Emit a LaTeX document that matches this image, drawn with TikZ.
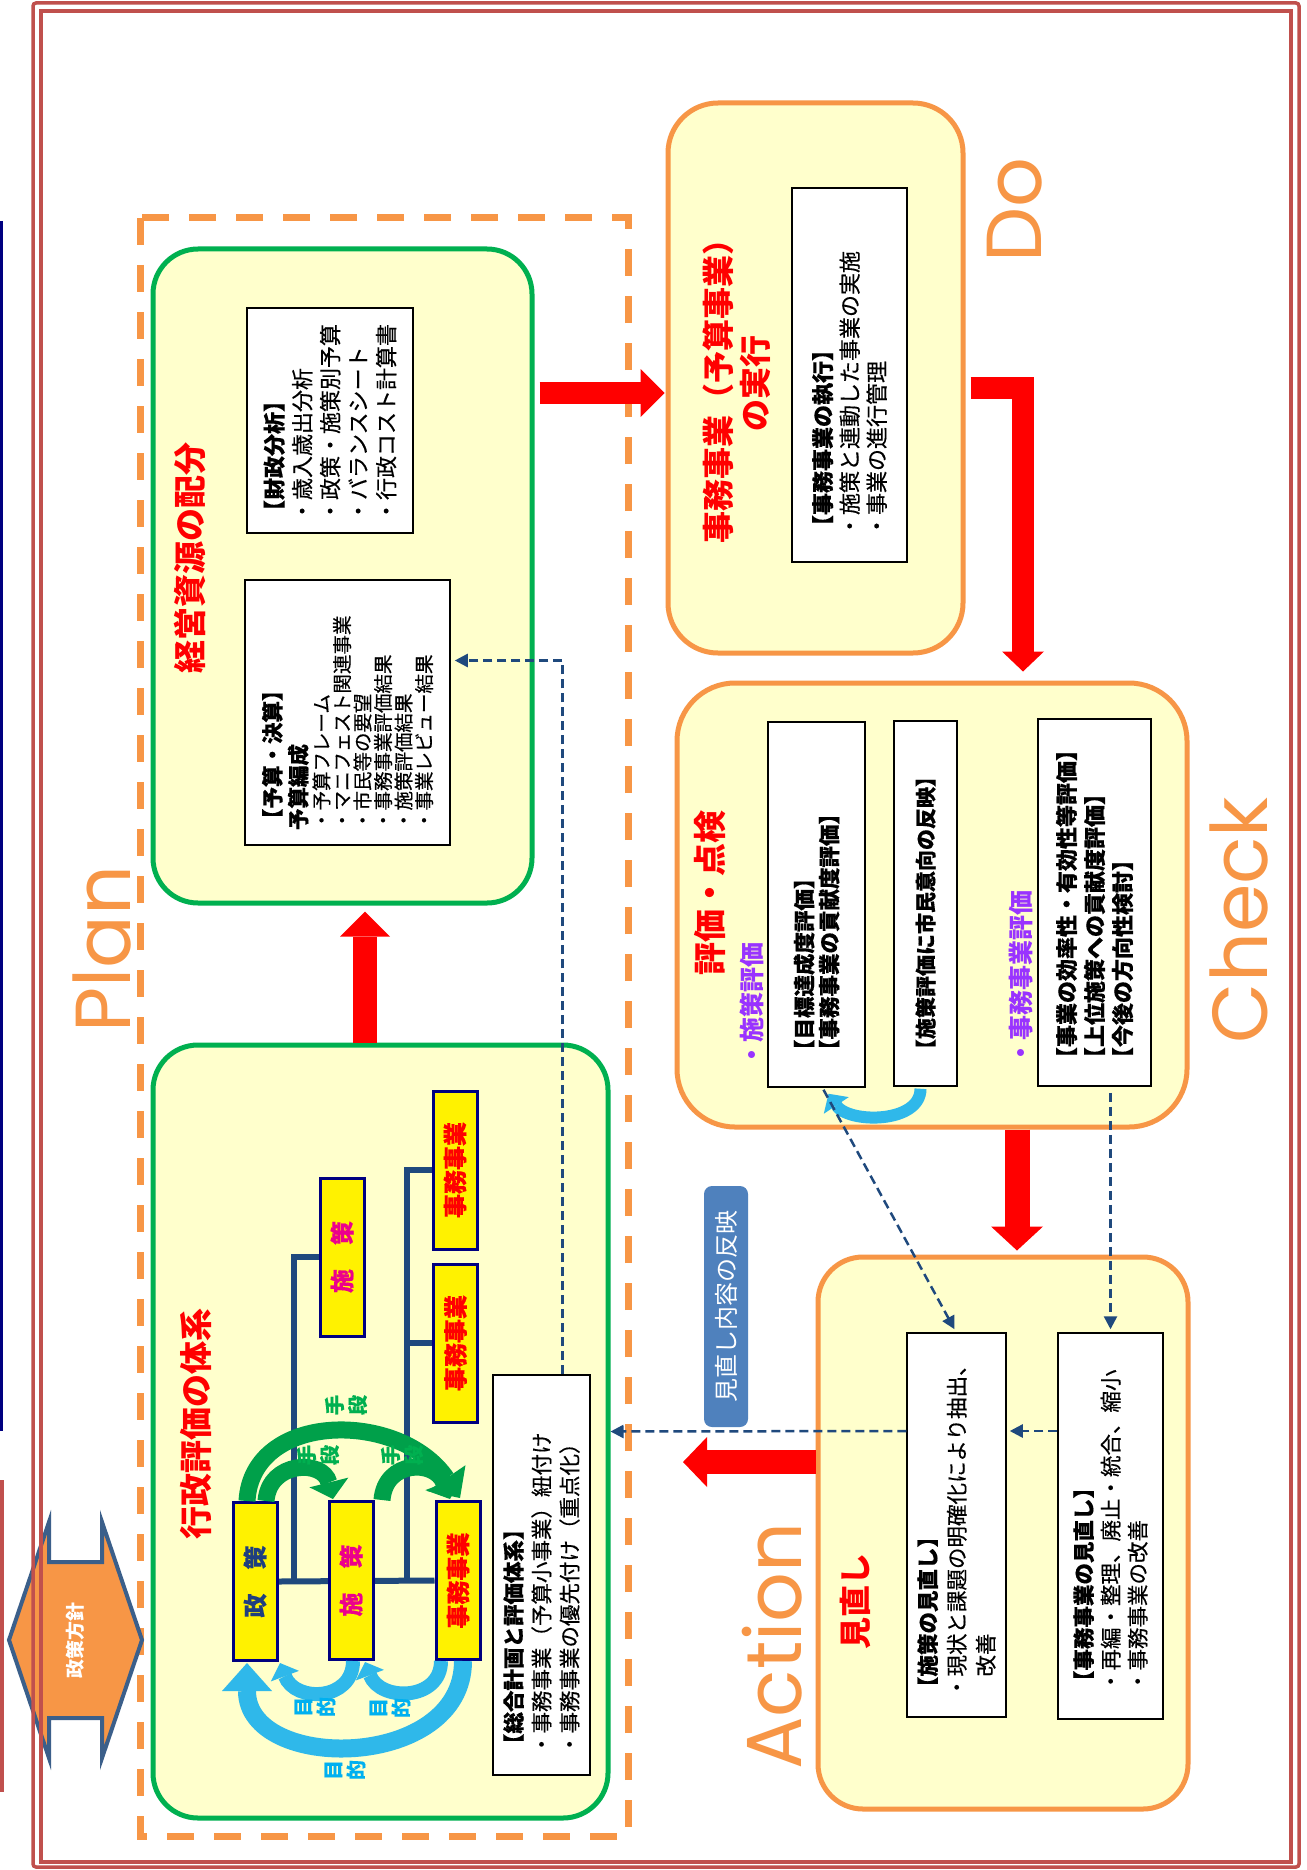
\documentclass[tikz,border=0pt]{standalone}
\usepackage{fontspec}
\setmainfont{Noto Sans CJK JP}
\newfontfamily\jpm{Noto Sans CJK JP}[FakeBold=0.35]
\newfontfamily\latinfont{Poppins}
\usetikzlibrary{arrows.meta,calc}
\pgfdeclarelayer{bg}
\pgfdeclarelayer{mid}
\pgfsetlayers{bg,mid,main}
\definecolor{bdred}{HTML}{C0504D}
\definecolor{orng}{HTML}{F79646}
\definecolor{grn}{HTML}{00B050}
\definecolor{lyel}{HTML}{FFFFCC}
\definecolor{navyline}{HTML}{1F497D}
\definecolor{navybox}{HTML}{000080}
\definecolor{dashblue}{HTML}{1F497D}
\definecolor{lbl}{HTML}{4F81BD}
\definecolor{purp}{HTML}{9933FF}
\definecolor{skyb}{HTML}{00B0F0}
\definecolor{arcgreen}{HTML}{00A04A}
\definecolor{arcblue}{HTML}{2FB8EA}
\definecolor{seiblue}{HTML}{1F3F7F}
\definecolor{arrowblue}{HTML}{3B5F8A}
\begin{document}
\begin{tikzpicture}[x=1pt,y=-1pt,
  bigbox/.style={rectangle,rounded corners=45pt,line width=5pt,fill=lyel,inner sep=0pt},
  ttl/.style={rotate=90,text=red,font=\fontsize{33}{38}\selectfont\bfseries,inner sep=0pt},
  ptl/.style={rotate=90,text=purp,font=\fontsize{25}{28}\selectfont\bfseries,inner sep=0pt},
  inbox/.style={rotate=90,draw=black,line width=1.5pt,fill=white,align=left,inner sep=0pt},
  hbox/.style={rotate=90,draw=navybox,line width=3pt,fill=yellow,minimum width=158pt,minimum height=44pt,font=\jpm\fontsize{24}{24}\selectfont\bfseries,inner sep=0pt},
  lbltext/.style={rotate=90,align=center,font=\jpm\fontsize{20}{23}\selectfont\bfseries,inner sep=0pt},
  pdca/.style={rotate=90,text=orng,font=\latinfont\fontsize{78}{80}\selectfont,inner sep=0pt},
  rarrow/.style={draw=red,line join=miter},
  dconn/.style={draw=dashblue,line width=2.5pt,dash pattern=on 9pt off 5pt,-{Triangle[width=13pt,length=13pt]}},
  garc/.style={draw=arcgreen,line width=17pt},
  barc/.style={draw=arcblue}
]
\begin{pgfonlayer}{bg}
\fill[white] (0,0) rectangle (1306,1870);
\node[bigbox,draw=grn,minimum width=379pt,minimum height=654pt] (topG) at (342.5,576) {};
\node[bigbox,draw=grn,minimum width=455pt,minimum height=773pt] (lowG) at (380.5,1431.5) {};
\node[bigbox,draw=orng,rounded corners=50pt,minimum width=295pt,minimum height=550pt] (doB) at (815.5,378) {};
\node[bigbox,draw=orng,rounded corners=58pt,minimum width=510pt,minimum height=444pt] (chkB) at (932,905) {};
\node[bigbox,draw=orng,minimum width=370pt,minimum height=552pt] (actB) at (1003,1533) {};
\end{pgfonlayer}
\useasboundingbox (0,0) rectangle (1306,1870);

% edge remnants
\draw[navybox,line width=3pt] (1.5,221) -- (1.5,1431);
\draw[bdred,line width=3.5pt] (1.75,1480) -- (1.75,1792);

% Plan dashed frame
\draw[orng,line width=7pt,dash pattern=on 27pt off 20pt] (140,218) rectangle (628,1836);

% policy double arrow
\filldraw[fill=orng,draw=arrowblue,line width=4pt,line join=miter] (9,1640) -- (49,1522) -- (49,1562) -- (102,1562) -- (102,1522) -- (142,1640) -- (102,1758) -- (102,1718) -- (49,1718) -- (49,1758) -- cycle;
\node[rotate=90,text=white,font=\fontsize{19}{19}\selectfont\bfseries,inner sep=0pt] (hoshin) at (75.5,1640) {政策方針};

% outer double border
\draw[bdred,line width=3.5pt,rounded corners=3pt] (33,3) rectangle (1299,1867);
\draw[bdred,line width=3.5pt] (41,11) rectangle (1291,1862);

% PDCA words
\node[pdca] (pPlan) at (101.5,949) {Plan};
\node[pdca] (pDo) at (1015,210) {Do};
\node[pdca] (pCheck) at (1239,920) {Check};
\node[pdca] (pAction) at (772,1646) {Action};

% titles
\node[ttl] (tKeiei) at (190,558) {経営資源の配分};
\node[ttl] (tGyosei) at (196,1424) {行政評価の体系};
\node[ttl,font=\fontsize{32}{37}\selectfont\bfseries,align=center] (tDo) at (736.5,383) {事務事業（予算事業）\\の実行};
\node[ttl] (tChk) at (710,893) {評価・点検};
\node[ttl,font=\fontsize{32}{37}\selectfont\bfseries] (tAct) at (855,1601) {見直し};
\node[ptl] (tShisaku) at (752,1005) {・施策評価};
\node[ptl] (tJimu) at (1021,978) {・事務事業評価};

% inner text boxes
\node[inbox,minimum width=225pt,minimum height=166pt,text width=203pt,font=\jpm\fontsize{22}{28}\selectfont] (zaisei) at (330,420.5)
{{\bfseries 【財政分析】}\\・歳入歳出分析\\・政策・施策別予算\\・バランスシート\\・行政コスト計算書};
\node[inbox,minimum width=265pt,minimum height=205pt,text width=235pt,font=\jpm\fontsize{19.5}{20.5}\selectfont] (yosan) at (347.5,712.5)
{{\fontsize{21.5}{20}\selectfont\bfseries 【予算・決算】}\\[4pt]{\fontsize{21.5}{20}\selectfont\bfseries 予算編成}\\[2pt]・予算フレーム\\・マニフェスト関連事業\\・市民等の要望\\・事務事業評価結果\\・施策評価結果\\・事業レビュー結果};
\node[inbox,minimum width=400pt,minimum height=97pt,text width=360pt,font=\jpm\fontsize{21.5}{28}\selectfont] (sougou) at (541.5,1575)
{{\bfseries 【総合計画と評価体系】}\\・事務事業（予算小事業）紐付け\\・事務事業の優先付け（重点化）};
\node[inbox,minimum width=374pt,minimum height=115pt,text width=324pt,font=\jpm\fontsize{22}{27}\selectfont] (doIn) at (849.5,375)
{{\bfseries 【事務事業の執行】}\\・施策と連動した事業の実施\\・事業の進行管理};
\node[inbox,minimum width=365pt,minimum height=97pt,text width=313pt,font=\jpm\fontsize{21.5}{25}\selectfont\bfseries] (boxA) at (816.5,904.5)
{【目標達成度評価】\\【事務事業の貢献度評価】};
\node[inbox,minimum width=365pt,minimum height=63pt,text width=313pt,font=\jpm\fontsize{21}{25}\selectfont\bfseries] (boxB) at (925.5,903.5)
{【施策評価に市民意向の反映】};
\node[inbox,minimum width=367pt,minimum height=113pt,text width=333pt,font=\jpm\fontsize{22}{28}\selectfont\bfseries] (boxC) at (1094.5,902.5)
{【事業の効率性・有効性等評価】\\【上位施策への貢献度評価】\\【今後の方向性検討】};
\node[inbox,minimum width=384pt,minimum height=99pt,text width=346pt,font=\jpm\fontsize{21.5}{29}\selectfont] (sakuMin) at (956.5,1525)
{{\bfseries 【施策の見直し】}\\・現状と課題の明確化により抽出、\\\hspace*{1em}改善};
\node[inbox,minimum width=386pt,minimum height=105pt,text width=332pt,font=\jpm\fontsize{21.5}{27}\selectfont] (jimuMin) at (1110.5,1526)
{{\bfseries 【事務事業の見直し】}\\・再編・整理、廃止・統合、縮小\\・事務事業の改善};

% review label
\node[rotate=90,fill=lbl,rounded corners=8pt,minimum width=241pt,minimum height=44pt,text=white,font=\fontsize{24}{24}\selectfont,inner sep=0pt] (refl) at (726,1306.5) {見直し内容の反映};

% hierarchy boxes
\node[hbox,text=seiblue] (seis) at (255,1581.5) {政　策};
\node[hbox,text=magenta] (shiB) at (351,1580.5) {施　策};
\node[hbox,text=red] (jimuB) at (458,1580.5) {事務事業};
\node[hbox,text=magenta] (shiU) at (342,1257) {施　策};
\node[hbox,text=red] (jimuM) at (455.5,1343) {事務事業};
\node[hbox,text=red] (jimuT) at (455,1170) {事務事業};

\begin{pgfonlayer}{mid}
\draw[navyline,line width=6pt,line join=miter] (seis.south) -- (jimuB.north);
\draw[navyline,line width=6pt,line join=miter] (shiU.north) -| ($(seis.south)+(15,0)$);
\draw[navyline,line width=6pt,line join=miter] (jimuT.north) -| ($(seis.south)+(128,0)$);
\draw[navyline,line width=6pt] (jimuM.north) -- ++(-28,0);
\end{pgfonlayer}

% green arcs (means)
\draw[garc,-{Triangle[width=46pt,length=24pt,line width=0pt]}] ($(seis.east)+(-8,0)$) .. controls +(5,-90) and +(-60,-88) .. ($(jimuB.east)+(2,-2)$);
\draw[garc,-{Triangle[width=40pt,length=17pt,line width=0pt]}] ($(seis.east)+(11,0)$) .. controls +(3,-40) and +(-10,-40) .. ($(shiB.east)+(-18,-1)$);
\draw[garc,-{Triangle[width=40pt,length=17pt,line width=0pt]}] ($(shiB.east)+(31,0)$) .. controls +(3,-40) and +(-15,-40) .. ($(jimuB.east)+(-8,-1)$);
% blue arcs (purpose)
\draw[barc,line width=18pt,-{Triangle[width=50pt,length=28pt,line width=0pt]}] ($(jimuB.west)+(5,0)$) .. controls +(0,110) and +(0,110) .. ($(seis.west)+(-8,1)$);
\draw[barc,line width=14pt,-{Triangle[width=30pt,length=14pt,line width=0pt]}] ($(shiB.west)+(2,0)$) .. controls +(0,40) and +(15,40) .. ($(seis.west)+(25,1)$);
\draw[barc,line width=14pt,-{Triangle[width=30pt,length=14pt,line width=0pt]}] ($(jimuB.west)+(-17,0)$) .. controls +(0,40) and +(15,40) .. ($(shiB.west)+(14,1)$);

% labels
\node[lbltext,text=grn] (sd1) at (346,1405) {手\\段};
\node[lbltext,text=grn] (sd2) at (318,1455) {手\\段};
\node[lbltext,text=grn] (sd3) at (402,1455) {手\\段};
\node[lbltext,text=skyb] (mk1) at (315,1707) {目\\的};
\node[lbltext,text=skyb] (mk2) at (390,1708) {目\\的};
\node[lbltext,text=skyb] (mk3) at (345,1770) {目\\的};

% check arc
\draw[barc,line width=12pt,-{Triangle[width=30pt,length=14pt,line width=0pt]}] ($(boxB.west)+(-5,2)$) .. controls +(0,35) and +(20,30) .. ($(boxA.west)+(12,6)$);

% red block arrows
\coordinate (aUpX) at (365,0);
\draw[rarrow,line width=24pt,-{Triangle[width=50pt,length=25pt,line width=0pt]}] (aUpX |- lowG.north) -- ($(aUpX |- topG.south)+(0,6)$);
\coordinate (aR) at (0,393);
\draw[rarrow,line width=22pt,-{Triangle[width=48pt,length=24pt,line width=0pt]}] ($(topG.east |- aR)+(5,0)$) -- ($(doB.west |- aR)+(-1,0)$);
\coordinate (aL) at (1023,388);
\draw[rarrow,line width=22pt,-{Triangle[width=42pt,length=20pt,line width=0pt]}] ($(doB.east |- aL)+(5,0)$) -| ($(aL |- chkB.north)+(0,-9)$);
\coordinate (aD) at (1017,0);
\draw[rarrow,line width=25pt,-{Triangle[width=52pt,length=24pt,line width=0pt]}] (aD |- chkB.south) -- ($(aD |- actB.north)+(0,-4)$);
\coordinate (aLt) at (683,1462);
\draw[rarrow,line width=24pt,-{Triangle[width=50pt,length=24pt,line width=0pt]}] (actB.west |- aLt) -- (aLt);

% dashed connectors
\draw[dconn] ($(sougou.east)+(21,0)$) |- ($(yosan.south)+(4,-52)$);
\draw[dconn] ($(boxA.west)+(7,2)$) -- ($(sakuMin.east)+(-2,-3)$);
\draw[dconn] ($(jimuMin.east |- boxC.west)+(0,6)$) -- ($(jimuMin.east)+(0,-3)$);
\draw[dconn] ($(jimuMin.north)+(0,-95)$) -- ($(sakuMin.south)+(3,-94)$);
\draw[dconn] ($(sakuMin.north)+(0,-94)$) -- (lowG.east);
\end{tikzpicture}
\end{document}
